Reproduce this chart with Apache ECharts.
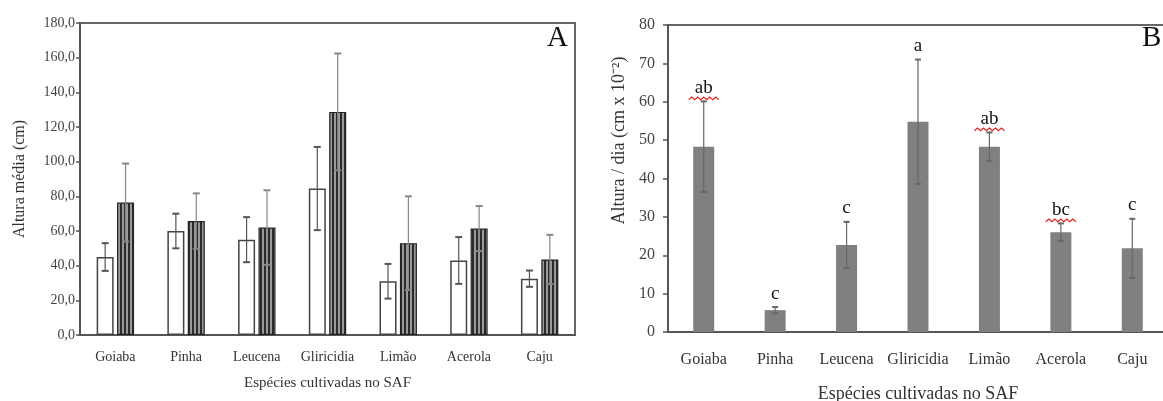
<!DOCTYPE html>
<html>
<head>
<meta charset="utf-8">
<script src="https://cdn.jsdelivr.net/npm/echarts@6/dist/echarts.min.js"></script>
<style>
  html, body { margin: 0; background: #fff; }
  #chart { width: 1163px; height: 401px; }
</style>
</head>
<body>
<div id="chart"></div>
<script>
// dados
var species = ['Goiaba', 'Pinha', 'Leucena', 'Gliricidia', 'Limão', 'Acerola', 'Caju'];
// painel A - altura média (cm)
var alturaInicial = [45, 60, 55, 84.5, 31, 43, 32.5];
var alturaInicialErro = [8, 10, 13, 24, 10, 13.5, 4.7];
var alturaFinal = [76.4, 65.7, 62, 128.7, 53, 61.4, 43.6];
var alturaFinalErro = [22.5, 16, 21.5, 33.7, 27, 13, 14.2];
// painel B - altura / dia (cm x 10^-2)
var crescDia = [48.3, 5.7, 22.7, 54.8, 48.3, 26, 21.8];
var crescDiaErro = [11.8, 0.8, 6, 16.2, 3.7, 2.3, 7.7];
var letras = ['ab', 'c', 'c', 'a', 'ab', 'bc', 'c'];

var serif = 'Liberation Serif';
var axisColor = '#555';

// listras verticais das barras escuras
var stripe = document.createElement('canvas');
stripe.width = 4;
stripe.height = 4;
var ctx = stripe.getContext('2d');
ctx.fillStyle = '#9a9a9a';
ctx.fillRect(0, 0, 4, 4);
ctx.fillStyle = '#2b2b2b';
ctx.fillRect(0, 0, 2, 4);

function errData(vals, errs) {
  return vals.map(function (v, i) { return [i, v - errs[i], v + errs[i]]; });
}

// barras de erro (e letras, se houver)
function errorRender(offset, color, capW, labels) {
  return function (params, api) {
    var i = params.dataIndex;
    var lo = api.coord([api.value(0), api.value(1)]);
    var hi = api.coord([api.value(0), api.value(2)]);
    var x = lo[0] + offset;
    var st = { stroke: color, lineWidth: 1.2 };
    var children = [
      { type: 'line', shape: { x1: x, y1: lo[1], x2: x, y2: hi[1] }, style: st },
      { type: 'line', shape: { x1: x - capW / 2, y1: hi[1], x2: x + capW / 2, y2: hi[1] }, style: { stroke: color, lineWidth: 2 } },
      { type: 'line', shape: { x1: x - capW / 2, y1: lo[1], x2: x + capW / 2, y2: lo[1] }, style: { stroke: color, lineWidth: 2 } }
    ];
    if (labels) {
      var txt = labels[i];
      children.push({
        type: 'text',
        style: {
          text: txt, x: x, y: hi[1] - 4, align: 'center', verticalAlign: 'bottom',
          font: '19px "' + serif + '"', fill: '#111'
        }
      });
      if (txt.length > 1) {
        // sublinhado ondulado vermelho
        var pts = [];
        var w = 30, y0 = hi[1] - 3;
        for (var k = 0; k <= 10; k++) {
          pts.push([x - w / 2 + k * w / 10, y0 + (k % 2 ? -1.3 : 1.3)]);
        }
        children.push({ type: 'polyline', shape: { points: pts }, style: { stroke: '#e0201a', lineWidth: 1.2, fill: null } });
      }
    }
    return { type: 'group', children: children };
  };
}

function catAxis(grid, fs, margin, nameFs, nameGap) {
  return {
    type: 'category', gridIndex: grid, data: species,
    axisLine: { lineStyle: { color: axisColor, width: 2 } },
    axisTick: { length: 5, lineStyle: { color: axisColor, width: 1.5 } },
    axisLabel: { interval: 0, color: '#333', fontFamily: serif, fontSize: fs, margin: margin },
    name: 'Espécies cultivadas no SAF', nameLocation: 'middle', nameGap: nameGap,
    nameTextStyle: { color: '#333', fontFamily: serif, fontSize: nameFs }
  };
}

var chart = echarts.init(document.getElementById('chart'));
chart.setOption({
  animation: false,
  title: [
    { text: 'A', left: 547, top: 24, padding: 0, textStyle: { fontFamily: serif, fontSize: 29, fontWeight: 'normal', color: '#111' } },
    { text: 'B', left: 1142, top: 24, padding: 0, textStyle: { fontFamily: serif, fontSize: 29, fontWeight: 'normal', color: '#111' } }
  ],
  grid: [
    { left: 80, top: 23, width: 495, height: 312, show: true, borderColor: '#666', borderWidth: 2, outerBoundsMode: 'none' },
    { left: 668, top: 25, width: 500, height: 307, show: true, borderColor: '#666', borderWidth: 2, outerBoundsMode: 'none' }
  ],
  xAxis: [
    catAxis(0, 14, 15, 15, 41),
    catAxis(1, 16, 20, 18, 53)
  ],
  yAxis: [
    {
      type: 'value', gridIndex: 0, min: 0, max: 180, interval: 20,
      axisLine: { show: true, lineStyle: { color: axisColor, width: 2 } },
      axisTick: { show: true, length: 4, lineStyle: { color: axisColor, width: 1.5 } },
      splitLine: { show: false },
      axisLabel: {
        color: '#444', fontFamily: serif, fontSize: 14, margin: 5,
        formatter: function (v) { return v.toFixed(1).replace('.', ','); }
      },
      name: 'Altura média (cm)', nameLocation: 'middle', nameGap: 52,
      nameTextStyle: { color: '#333', fontFamily: serif, fontSize: 16 }
    },
    {
      type: 'value', gridIndex: 1, min: 0, max: 80, interval: 10,
      axisLine: { show: true, lineStyle: { color: axisColor, width: 2 } },
      axisTick: { show: true, length: 5, lineStyle: { color: axisColor, width: 1.5 } },
      splitLine: { show: false },
      axisLabel: { color: '#444', fontFamily: serif, fontSize: 16, margin: 13 },
      name: 'Altura / dia (cm x 10⁻²)', nameLocation: 'middle', nameGap: 40,
      nameTextStyle: { color: '#333', fontFamily: serif, fontSize: 18, padding: [0, 0, 0, 76] }
    }
  ],
  series: [
    {
      type: 'bar', xAxisIndex: 0, yAxisIndex: 0, data: alturaInicial,
      barWidth: 17, barGap: '20%',
      itemStyle: { color: '#fff', borderColor: '#444', borderWidth: 1.5 }
    },
    {
      type: 'bar', xAxisIndex: 0, yAxisIndex: 0, data: alturaFinal,
      barWidth: 17, barGap: '20%',
      itemStyle: { color: { image: stripe, repeat: 'repeat' }, borderColor: '#222', borderWidth: 1.2 }
    },
    {
      type: 'custom', xAxisIndex: 0, yAxisIndex: 0, z: 5,
      data: errData(alturaInicial, alturaInicialErro),
      encode: { x: 0, y: [1, 2] },
      renderItem: errorRender(-10.2, '#555', 7)
    },
    {
      type: 'custom', xAxisIndex: 0, yAxisIndex: 0, z: 5,
      data: errData(alturaFinal, alturaFinalErro),
      encode: { x: 0, y: [1, 2] },
      renderItem: errorRender(10.2, '#888', 7)
    },
    {
      type: 'bar', xAxisIndex: 1, yAxisIndex: 1, data: crescDia,
      barWidth: 21,
      itemStyle: { color: '#808080' }
    },
    {
      type: 'custom', xAxisIndex: 1, yAxisIndex: 1, z: 5,
      data: errData(crescDia, crescDiaErro),
      encode: { x: 0, y: [1, 2] },
      renderItem: errorRender(0, '#666', 6, letras)
    }
  ]
});
</script>
</body>
</html>
